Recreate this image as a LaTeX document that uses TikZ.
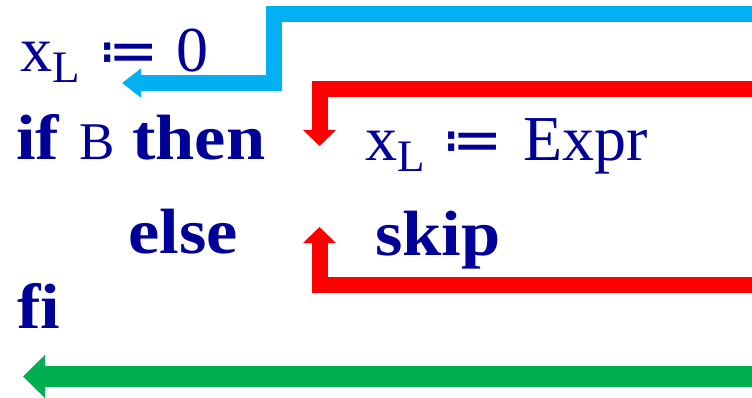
\documentclass[tikz,border=0pt]{standalone}
\usepackage{fontspec}
\setmainfont{Liberation Serif}[BoldFeatures={FakeStretch=1.1}]
\newfontfamily\opfont{DejaVu Sans}
\usetikzlibrary{arrows.meta}
\definecolor{codeblue}{RGB}{0,0,153}
\definecolor{flowcyan}{RGB}{0,176,240}
\definecolor{flowred}{RGB}{255,0,0}
\definecolor{flowgreen}{RGB}{0,176,80}
\newcommand{\xL}{x\raisebox{-11pt}{\fontsize{45}{45}\selectfont L}}
\newcommand{\becomes}{{\opfont\fontsize{60}{60}\selectfont ≔}}

\begin{document}
\begin{tikzpicture}[
  x=1pt, y=-1pt,
  code/.style={anchor=base west, inner sep=0pt, text=codeblue, font=\fontsize{64}{70}\selectfont},
  flow/.style={line width=#1, line cap=butt, line join=miter},
]
\useasboundingbox (0,0) rectangle (752,398);
% program text
\node[code] (init) at (20,72) {\xL\hspace{19pt}\becomes\hspace{18pt}0};
\node[code] (ifB) at (16,160) {\textbf{if}\hspace{20pt}{\fontsize{53}{60}\selectfont B}\hspace{17pt}\textbf{then}};
\node[code] (assign) at (365,161) {\xL\hspace{18pt}\becomes\hspace{21pt}Expr};
\node[code] (else) at (128,253) {\textbf{else}};
\node[code] (skip) at (375,255) {\textbf{skip}};
\node[code] (fi) at (17,328) {\textbf{f\kern0pt i}};
% free ends of the flows
\coordinate (cyanin) at (752,14);
\coordinate (cyanout) at (122,83);
\coordinate (redin) at (752,89);
\coordinate (redthen) at (319.5,146);
\coordinate (redout) at (752,284.5);
\coordinate (redelse) at (319.5,227);
\coordinate (greenin) at (752,376.5);
\coordinate (greenout) at (23,376.5);
% flows
\draw[flow=16pt, flowcyan, -{Triangle[length=19pt,width=28pt]}] (cyanin) -- (274,14) |- (cyanout);
\draw[flow=16pt, flowred, -{Triangle[length=16pt,width=32pt]}] (redin) -| (redthen);
\draw[flow=16pt, flowred, -{Triangle[length=16pt,width=32pt]}] (redout) -| (redelse);
\draw[flow=21pt, flowgreen, -{Triangle[length=22pt,width=42pt]}] (greenin) -- (greenout);
\end{tikzpicture}
\end{document}
